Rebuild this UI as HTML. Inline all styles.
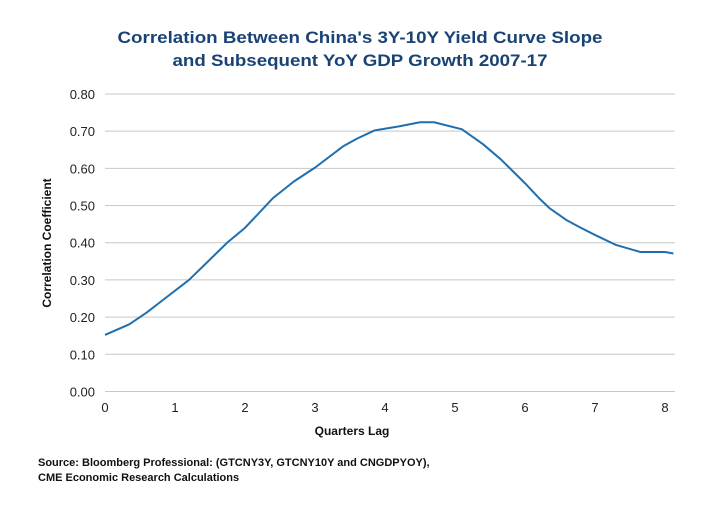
<!DOCTYPE html>
<html><head><meta charset="utf-8"><style>
body{margin:0;background:#fff;width:720px;height:500px;overflow:hidden;font-family:"Liberation Sans",sans-serif}
</style></head><body>
<svg width="720" height="500" xmlns="http://www.w3.org/2000/svg">
<text x="360" y="43" text-anchor="middle" font-size="17" font-weight="bold" fill="#1a4375" textLength="485" lengthAdjust="spacingAndGlyphs">Correlation Between China's 3Y-10Y Yield Curve Slope</text>
<text x="360" y="66" text-anchor="middle" font-size="17" font-weight="bold" fill="#1a4375" textLength="375" lengthAdjust="spacingAndGlyphs">and Subsequent YoY GDP Growth 2007-17</text>
<g id="grid"></g><g id="yt"></g><g id="xt"></g>
<polyline id="line" fill="none" stroke="#1f6fb0" stroke-width="2" stroke-linejoin="round"/>
<text x="352" y="435" text-anchor="middle" font-size="12" font-weight="bold" fill="#111">Quarters Lag</text>
<text transform="translate(51,243) rotate(-90)" text-anchor="middle" font-size="12" font-weight="bold" fill="#111">Correlation Coefficient</text>
<text x="38" y="466" font-size="11" font-weight="bold" fill="#111">Source: Bloomberg Professional: (GTCNY3Y, GTCNY10Y and CNGDPYOY),</text>
<text x="38" y="481" font-size="11" font-weight="bold" fill="#111">CME Economic Research Calculations</text>
</svg>
<script>
const xVals=[0,0.35,0.6,0.8,1.2,1.5,1.75,2.0,2.4,2.7,3,3.4,3.6,3.85,4.2,4.5,4.7,5.1,5.4,5.65,6,6.2,6.35,6.6,6.8,7,7.3,7.65,8,8.12];
const yVals=[0.152,0.181,0.213,0.242,0.30,0.355,0.401,0.44,0.52,0.565,0.602,0.659,0.68,0.702,0.713,0.724,0.724,0.705,0.665,0.625,0.56,0.52,0.493,0.46,0.44,0.421,0.394,0.375,0.375,0.371];
const yTicks=[0,0.1,0.2,0.3,0.4,0.5,0.6,0.7,0.8];
const xTicks=[0,1,2,3,4,5,6,7,8];
const ns="http://www.w3.org/2000/svg";
const X=v=>105+v*70, Y=v=>391.5-v*371.9;
const grid=document.getElementById('grid'),yt=document.getElementById('yt'),xt=document.getElementById('xt');
yTicks.forEach(t=>{
 const l=document.createElementNS(ns,'line');
 l.setAttribute('x1',105);l.setAttribute('x2',675);l.setAttribute('y1',Y(t));l.setAttribute('y2',Y(t));
 l.setAttribute('stroke','#c8c8c8');l.setAttribute('stroke-width','1');
 
 
 grid.appendChild(l);
 const tx=document.createElementNS(ns,'text');
 tx.setAttribute('x',95);tx.setAttribute('y',Y(t)+5);tx.setAttribute('text-anchor','end');tx.setAttribute('font-size','13');tx.setAttribute('fill','#222');
 tx.textContent=t.toFixed(2);
 
 
 yt.appendChild(tx);
});
xTicks.forEach(t=>{
 const tx=document.createElementNS(ns,'text');
 tx.setAttribute('x',X(t));tx.setAttribute('y',412);tx.setAttribute('text-anchor','middle');tx.setAttribute('font-size','13');tx.setAttribute('fill','#222');
 tx.textContent=t;
 
 
 xt.appendChild(tx);
});
document.getElementById('line').setAttribute('points',xVals.map((x,i)=>X(x)+','+Y(yVals[i])).join(' '));
</script>
</body></html>
